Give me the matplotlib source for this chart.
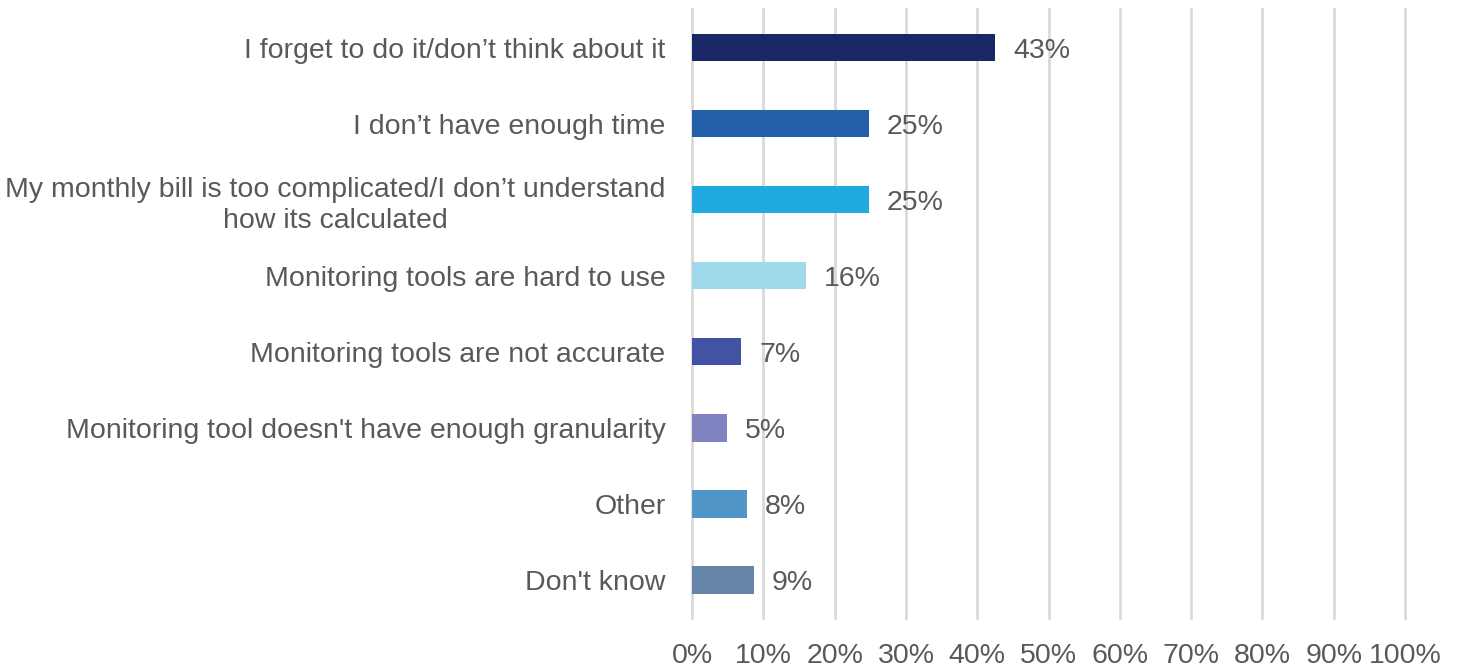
import matplotlib
matplotlib.use("Agg")
import matplotlib.pyplot as plt
from matplotlib.ticker import MultipleLocator, FuncFormatter

categories = [
    "I forget to do it/don\u2019t think about it",
    "I don\u2019t have enough time",
    "My monthly bill is too complicated/I don\u2019t understand\nhow its calculated",
    "Monitoring tools are hard to use",
    "Monitoring tools are not accurate",
    "Monitoring tool doesn't have enough granularity",
    "Other",
    "Don't know",
]
values = [42.5, 24.8, 24.8, 16.0, 6.9, 4.9, 7.7, 8.7]
value_labels = ["43%", "25%", "25%", "16%", "7%", "5%", "8%", "9%"]
colors = ["#1a2766", "#255ea8", "#20aae0", "#9ed9ec",
          "#4353a3", "#8083c0", "#5096c9", "#6585a9"]

TEXT = "#595959"
FS = 20.5
plt.rcParams["font.family"] = ["Liberation Sans", "DejaVu Sans"]

fig = plt.figure(figsize=(14.59, 6.69), dpi=100)
ax = fig.add_axes([0.4743, 0.0762, 0.4887, 0.9096])

y = range(len(categories))
bars = ax.barh(list(y), values, height=0.36, color=colors, zorder=3)

for bar, lab in zip(bars, value_labels):
    ax.annotate(lab, (bar.get_width(), bar.get_y() + bar.get_height() / 2),
                xytext=(13, 0), textcoords="offset points",
                ha="left", va="center_baseline", fontsize=FS, color=TEXT)

ax.set_xlim(0, 100)
ax.set_ylim(7.5, -0.5)
ax.xaxis.set_major_locator(MultipleLocator(10))
ax.xaxis.set_major_formatter(FuncFormatter(lambda v, _: f"{v:.0f}%"))
ax.set_yticks(list(y))
ax.set_yticklabels(categories, fontsize=FS, color=TEXT,
                   multialignment="center", linespacing=1.25)
ax.tick_params(axis="y", length=0, pad=19)
ax.tick_params(axis="x", length=0, pad=18, labelsize=FS, labelcolor=TEXT)
ax.grid(axis="x", color="#d9d9d9", linewidth=2, zorder=0)
for gl in ax.get_xgridlines():
    gl.set_clip_on(False)
for s in ax.spines.values():
    s.set_visible(False)

fig.savefig("out.png", dpi=100)
